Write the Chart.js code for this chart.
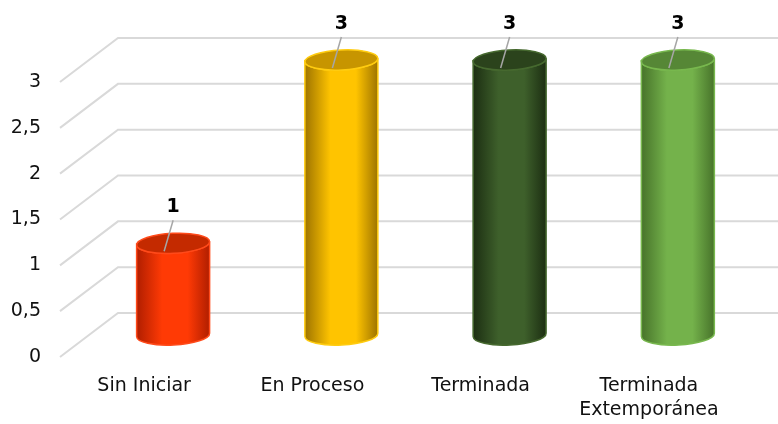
<!DOCTYPE html>
<html>
<head>
<meta charset="utf-8">
<script src="https://cdn.jsdelivr.net/npm/chart.js@4"></script>
<style>
  html, body { margin: 0; padding: 0; background: #fff; }
  #wrap { width: 778px; height: 424px; position: relative; }
</style>
</head>
<body>
<div id="wrap"><canvas id="myChart"></canvas></div>
<script>
  const categories = ['Sin Iniciar', 'En Proceso', 'Terminada', ['Terminada', 'Extemporánea']];
  const values = [1, 3, 3, 3];
  const yMin = 0;
  const yMax = 3;
  const yStep = 0.5;

  // cylinder colours: [edge, centre, top, outline]
  const palette = [
    ['#B01E00', '#FF3A05', '#C42A00', '#FF4A1A'],
    ['#9E7400', '#FFC400', '#C79500', '#FFCC10'],
    ['#1C2E12', '#3E602B', '#2B431C', '#46692F'],
    ['#47732A', '#74B24B', '#568736', '#78B84E']
  ];

  const depthX = 58, depthY = 44;
  const font = "'DejaVu Sans', Verdana, sans-serif";

  const perspective = {
    id: 'perspective',
    beforeDatasetsDraw(chart) {
      const ctx = chart.ctx;
      const ys = chart.scales.y;
      const left = chart.chartArea.left;
      ctx.save();
      ctx.strokeStyle = '#D9D9D9';
      ctx.lineWidth = 2;
      ys.ticks.forEach(t => {
        const y = ys.getPixelForValue(t.value);
        ctx.beginPath();
        ctx.moveTo(left, y);
        ctx.lineTo(left + depthX, y - depthY);
        ctx.lineTo(chart.width, y - depthY);
        ctx.stroke();
      });
      ctx.restore();
    },
    afterDatasetsDraw(chart) {
      const ctx = chart.ctx;
      const ys = chart.scales.y;
      const meta = chart.getDatasetMeta(0);
      const base = ys.getPixelForValue(0) - depthY / 2;
      meta.data.forEach((bar, i) => {
        const c = palette[i];
        const cx = bar.x + depthX / 2;
        const top = bar.y - depthY / 2;
        const rx = bar.width / 2;
        const ry = 10;
        const rot = -0.05;
        ctx.save();
        const g = ctx.createLinearGradient(cx - rx, 0, cx + rx, 0);
        g.addColorStop(0, c[0]);
        g.addColorStop(0.35, c[1]);
        g.addColorStop(0.7, c[1]);
        g.addColorStop(1, c[0]);
        ctx.beginPath();
        ctx.moveTo(cx - rx, top);
        ctx.lineTo(cx - rx, base);
        ctx.ellipse(cx, base, rx, ry, rot, Math.PI, 0, true);
        ctx.lineTo(cx + rx, top);
        ctx.ellipse(cx, top, rx, ry, rot, 0, Math.PI, false);
        ctx.closePath();
        ctx.fillStyle = g;
        ctx.fill();
        ctx.strokeStyle = c[3];
        ctx.lineWidth = 1.5;
        ctx.stroke();
        // top face
        ctx.beginPath();
        ctx.ellipse(cx, top, rx, ry, rot, 0, Math.PI * 2);
        ctx.fillStyle = c[2];
        ctx.fill();
        ctx.stroke();
        // leader line + value label
        ctx.strokeStyle = '#A6A6A6';
        ctx.lineWidth = 1.5;
        ctx.beginPath();
        ctx.moveTo(cx, top - 23);
        ctx.lineTo(cx - 9, top + 8);
        ctx.stroke();
        ctx.fillStyle = '#000';
        ctx.font = 'bold 19px ' + font;
        ctx.textAlign = 'center';
        ctx.textBaseline = 'middle';
        ctx.fillText(String(values[i]), cx, top - 36);
        ctx.restore();
      });
    }
  };

  const config = {
    type: 'bar',
    data: {
      labels: categories,
      datasets: [{
        data: values,
        backgroundColor: 'rgba(0,0,0,0)',
        borderWidth: 0,
        barPercentage: 0.434,
        categoryPercentage: 1
      }]
    },
    options: {
      responsive: true,
      maintainAspectRatio: false,
      animation: false,
      layout: { padding: { top: 82, right: 45, left: 0, bottom: 0 } },
      plugins: { legend: { display: false }, tooltip: { enabled: false } },
      scales: {
        x: {
          grid: { display: false, drawTicks: false },
          border: { display: false },
          ticks: {
            padding: 17,
            maxRotation: 0,
            autoSkip: false,
            color: '#111',
            font: { family: font, size: 19, lineHeight: 1.26 }
          },
          afterFit(s) { s.height = 67; }
        },
        y: {
          min: yMin,
          max: yMax,
          grid: { display: false, drawTicks: false },
          border: { display: false },
          ticks: {
            stepSize: yStep,
            padding: 19,
            color: '#111',
            font: { family: font, size: 19 },
            callback: v => String(v).replace('.', ',')
          },
          afterFit(s) { s.width = 60; }
        }
      }
    },
    plugins: [perspective]
  };

  const myChart = new Chart(document.getElementById('myChart'), config);
</script>
</body>
</html>
